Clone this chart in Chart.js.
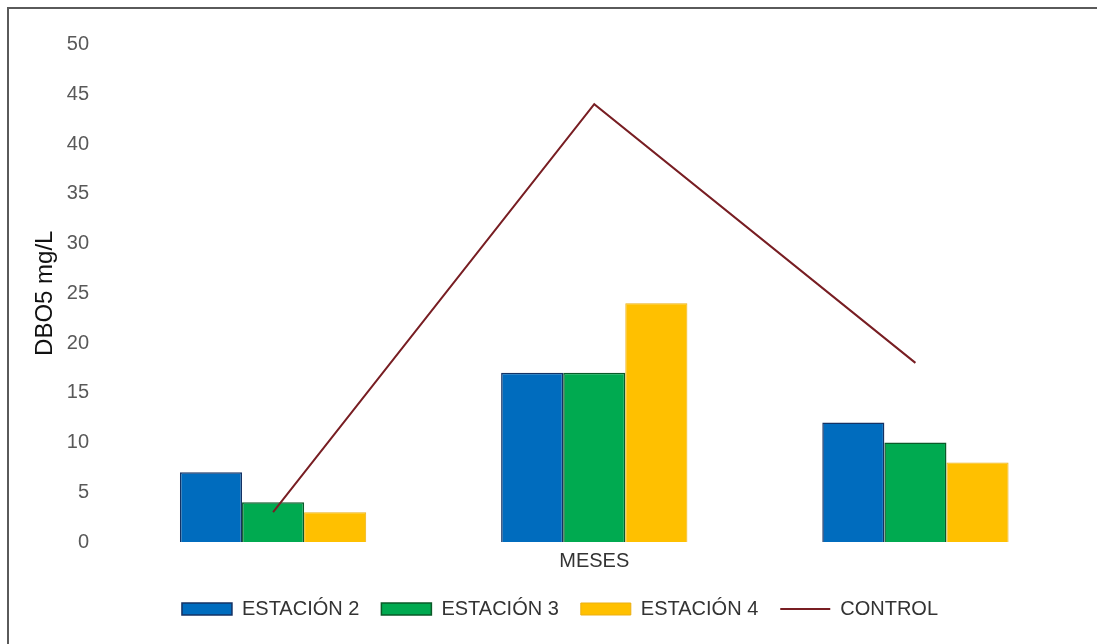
<!DOCTYPE html>
<html>
<head>
<meta charset="utf-8">
<script src="https://cdn.jsdelivr.net/npm/chart.js@4"></script>
<style>
    body { margin: 0; background: #fff; overflow: hidden; }
    #marco {
        position: absolute; left: 7px; top: 7px;
        width: 1090px; height: 637px;
        border-top: 2px solid #5a5a5a; border-left: 2px solid #5a5a5a;
    }
</style>
</head>
<body>
<div id="marco"><canvas id="lienzo" width="1088" height="635"></canvas></div>
<script>
// DBO5 por estación y control
const meses = ["Mes 1", "Mes 2", "Mes 3"]
const estacion2 = [7, 17, 12]
const estacion3 = [4, 17, 10]
const estacion4 = [3, 24, 8]
const control = [3, 44, 18]
const ticksY = [0, 5, 10, 15, 20, 25, 30, 35, 40, 45, 50]

const fuente = "'Liberation Sans', Arial, sans-serif"

document.addEventListener("DOMContentLoaded", () => {
    const ctx = document.getElementById("lienzo")
    new Chart(ctx, {
        type: 'bar',
        data: {
            labels: meses,
            datasets: [
                {
                    label: "ESTACIÓN 2",
                    data: estacion2,
                    backgroundColor: 'rgb(0, 108, 190)',
                    borderColor: 'rgb(20, 50, 100)',
                    borderWidth: 1.5,
                    pointStyle: 'rect',
                    order: 1
                },
                {
                    label: "ESTACIÓN 3",
                    data: estacion3,
                    backgroundColor: 'rgb(0, 170, 80)',
                    borderColor: 'rgb(10, 90, 40)',
                    borderWidth: 1.5,
                    pointStyle: 'rect',
                    order: 1
                },
                {
                    label: "ESTACIÓN 4",
                    data: estacion4,
                    backgroundColor: 'rgb(255, 192, 0)',
                    borderColor: 'rgb(235, 175, 20)',
                    borderWidth: 1,
                    pointStyle: 'rect',
                    order: 1
                },
                {
                    type: 'line',
                    label: "CONTROL",
                    data: control,
                    borderColor: 'rgb(120, 30, 35)',
                    backgroundColor: 'rgb(120, 30, 35)',
                    borderWidth: 2,
                    pointRadius: 0,
                    pointStyle: 'line',
                    order: 0
                }
            ]
        },
        options: {
            responsive: false,
            animation: false,
            layout: { padding: { left: 35, right: 21, top: 35, bottom: 15 } },
            datasets: {
                bar: { categoryPercentage: 0.58, barPercentage: 1 }
            },
            scales: {
                x: {
                    grid: { display: false, drawTicks: false },
                    border: { display: false },
                    ticks: { display: false },
                    title: {
                        display: true,
                        text: "MESES",
                        color: '#333333',
                        font: { family: fuente, size: 20 },
                        padding: { top: 7.5, bottom: 3.5 }
                    }
                },
                y: {
                    min: 0,
                    max: 50,
                    afterBuildTicks: (scale) => {
                        scale.ticks = ticksY.map(v => ({ value: v }))
                    },
                    afterFit: (scale) => { scale.width = 68.5 },
                    grid: { display: false, drawTicks: false },
                    border: { display: false },
                    ticks: {
                        color: '#595959',
                        padding: 23.5,
                        font: { family: fuente, size: 20 }
                    },
                    title: {
                        display: true,
                        text: "DBO5 mg/L",
                        color: '#111111',
                        font: { family: fuente, size: 24 },
                        padding: { top: -13, bottom: 0 }
                    }
                }
            },
            plugins: {
                legend: {
                    position: 'bottom',
                    labels: {
                        usePointStyle: true,
                        pointStyleWidth: 50,
                        boxHeight: 12,
                        padding: 22,
                        color: '#333333',
                        font: { family: fuente, size: 20 },
                        sort: (a, b) => a.datasetIndex - b.datasetIndex
                    }
                },
                tooltip: { enabled: false }
            }
        }
    })
})
</script>
</body>
</html>
